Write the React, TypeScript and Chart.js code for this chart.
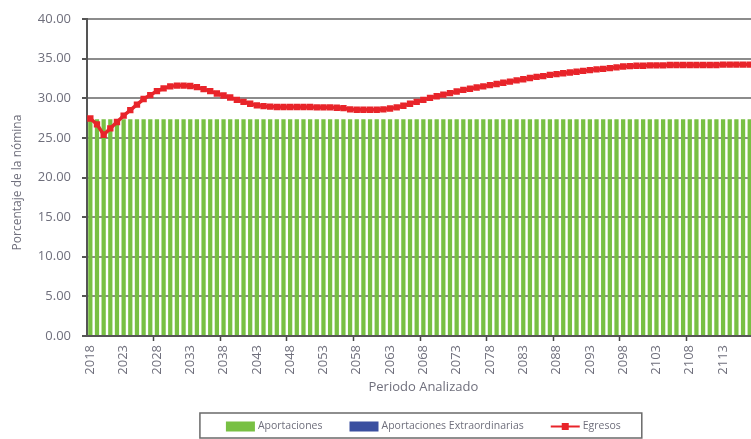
import { useEffect, useRef } from "react";
import { Chart, registerables } from "chart.js";
Chart.register(...registerables);

const years = [
  "2018","2019","2020","2021","2022","2023","2024","2025","2026","2027",
  "2028","2029","2030","2031","2032","2033","2034","2035","2036","2037",
  "2038","2039","2040","2041","2042","2043","2044","2045","2046","2047",
  "2048","2049","2050","2051","2052","2053","2054","2055","2056","2057",
  "2058","2059","2060","2061","2062","2063","2064","2065","2066","2067",
  "2068","2069","2070","2071","2072","2073","2074","2075","2076","2077",
  "2078","2079","2080","2081","2082","2083","2084","2085","2086","2087",
  "2088","2089","2090","2091","2092","2093","2094","2095","2096","2097",
  "2098","2099","2100","2101","2102","2103","2104","2105","2106","2107",
  "2108","2109","2110","2111","2112","2113","2114","2115","2116","2117",
  "2118",
];

const aportaciones = [
  27.35,27.35,27.35,27.35,27.35,27.35,27.35,27.35,27.35,27.35,
  27.35,27.35,27.35,27.35,27.35,27.35,27.35,27.35,27.35,27.35,
  27.35,27.35,27.35,27.35,27.35,27.35,27.35,27.35,27.35,27.35,
  27.35,27.35,27.35,27.35,27.35,27.35,27.35,27.35,27.35,27.35,
  27.35,27.35,27.35,27.35,27.35,27.35,27.35,27.35,27.35,27.35,
  27.35,27.35,27.35,27.35,27.35,27.35,27.35,27.35,27.35,27.35,
  27.35,27.35,27.35,27.35,27.35,27.35,27.35,27.35,27.35,27.35,
  27.35,27.35,27.35,27.35,27.35,27.35,27.35,27.35,27.35,27.35,
  27.35,27.35,27.35,27.35,27.35,27.35,27.35,27.35,27.35,27.35,
  27.35,27.35,27.35,27.35,27.35,27.35,27.35,27.35,27.35,27.35,
  27.35,
];

const aportacionesExtra = [
  0,0,0,0,0,0,0,0,0,0,
  0,0,0,0,0,0,0,0,0,0,
  0,0,0,0,0,0,0,0,0,0,
  0,0,0,0,0,0,0,0,0,0,
  0,0,0,0,0,0,0,0,0,0,
  0,0,0,0,0,0,0,0,0,0,
  0,0,0,0,0,0,0,0,0,0,
  0,0,0,0,0,0,0,0,0,0,
  0,0,0,0,0,0,0,0,0,0,
  0,0,0,0,0,0,0,0,0,0,
  0,
];

const egresos = [
  27.45,26.7,25.4,26.2,27.0,27.8,28.5,29.2,29.9,30.4,
  30.9,31.25,31.5,31.6,31.6,31.55,31.4,31.15,30.9,30.6,
  30.35,30.1,29.8,29.55,29.3,29.1,29.0,28.95,28.9,28.9,
  28.9,28.9,28.9,28.9,28.85,28.85,28.85,28.8,28.75,28.6,
  28.55,28.55,28.55,28.55,28.6,28.7,28.85,29.05,29.3,29.55,
  29.8,30.05,30.25,30.45,30.65,30.85,31.05,31.2,31.35,31.5,
  31.65,31.8,31.95,32.1,32.25,32.4,32.55,32.7,32.8,32.95,
  33.05,33.15,33.25,33.35,33.45,33.55,33.65,33.7,33.8,33.9,
  34.0,34.05,34.1,34.1,34.15,34.15,34.15,34.2,34.2,34.2,
  34.2,34.2,34.2,34.2,34.2,34.25,34.25,34.25,34.25,34.25,
  34.25,
];

const yTicks = [0, 5, 10, 15, 20, 25, 30, 35, 40];
const yTitle = "Porcentaje de la nómina";

const GREEN = "#78c043";
const BLUE = "#3a4fa0";
const RED = "#e8242a";
const TEXT = "#6f6f7c";
const FONT = "'Open Sans', sans-serif";

const legendPlugin = {
  id: "boxLegend",
  afterDraw(chart: any) {
    const { ctx, chartArea } = chart;
    const cx = (chartArea.left + chartArea.right) / 2;
    ctx.save();
    // y-axis title
    ctx.font = `12px ${FONT}`;
    ctx.fillStyle = TEXT;
    ctx.textAlign = "center";
    ctx.textBaseline = "middle";
    ctx.translate(18, (chartArea.top + chartArea.bottom) / 2 + 5);
    ctx.rotate(-Math.PI / 2);
    ctx.fillText(yTitle, 0, 0);
    ctx.restore();

    ctx.save();
    ctx.font = `10.5px ${FONT}`;
    const items = chart.data.datasets.map((d: any) => ({
      label: d.label,
      type: d.type,
      color: d.type === "line" ? d.borderColor : d.backgroundColor,
      w: ctx.measureText(d.label).width,
    }));
    const sw = 29, tg = 3, gap = 27;
    let total = 0;
    items.forEach((it: any, i: number) => {
      total += sw + tg + it.w + (i > 0 ? gap : 0);
    });
    let x = cx - total / 2;
    const boxL = x - 26, boxR = x + total + 21;
    const boxT = 413, boxB = 438;
    ctx.strokeStyle = "#6a6a6a";
    ctx.lineWidth = 1.5;
    ctx.strokeRect(boxL, boxT, boxR - boxL, boxB - boxT);
    const my = (boxT + boxB) / 2 + 1;
    items.forEach((it: any) => {
      if (it.type === "line") {
        ctx.strokeStyle = it.color;
        ctx.lineWidth = 2;
        ctx.beginPath();
        ctx.moveTo(x, my);
        ctx.lineTo(x + sw, my);
        ctx.stroke();
        ctx.fillStyle = it.color;
        ctx.fillRect(x + sw / 2 - 3.5, my - 3.5, 7, 7);
      } else {
        ctx.fillStyle = it.color;
        ctx.fillRect(x, my - 5, sw, 10);
      }
      ctx.fillStyle = TEXT;
      ctx.textBaseline = "middle";
      ctx.textAlign = "left";
      ctx.fillText(it.label, x + sw + tg, my);
      x += sw + tg + it.w + gap;
    });
    ctx.restore();
  },
};

export default function App() {
  const ref = useRef<HTMLCanvasElement>(null);
  useEffect(() => {
    if (!ref.current) return;
    const chart = new Chart(ref.current, {
      type: "bar",
      data: {
        labels: years,
        datasets: [
          {
            type: "bar",
            label: "Aportaciones",
            data: aportaciones,
            backgroundColor: GREEN,
            borderWidth: 0,
            grouped: false,
            categoryPercentage: 1,
            barPercentage: 0.64,
            order: 2,
          } as any,
          {
            type: "bar",
            label: "Aportaciones Extraordinarias",
            data: aportacionesExtra,
            backgroundColor: BLUE,
            borderWidth: 0,
            grouped: false,
            categoryPercentage: 1,
            barPercentage: 0.64,
            order: 1,
          } as any,
          {
            type: "line",
            label: "Egresos",
            data: egresos,
            borderColor: RED,
            backgroundColor: RED,
            borderWidth: 3.5,
            pointStyle: "rect",
            pointRadius: 4.5,
            pointBorderWidth: 0,
            tension: 0,
            order: 0,
          } as any,
        ],
      },
      options: {
        responsive: false,
        animation: false,
        devicePixelRatio: 1,
        layout: { padding: { top: 19, left: 0, right: 1, bottom: 43 } },
        plugins: {
          legend: { display: false },
          tooltip: { enabled: false },
        },
        scales: {
          x: {
            grid: {
              offset: true,
              drawOnChartArea: false,
              tickLength: 5,
              tickColor: (c: any) => (c.index % 10 === 0 && c.index > 0 ? "#444" : "rgba(0,0,0,0)"),
              tickWidth: 1.5,
            },
            border: { color: "#555", width: 2 },
            ticks: {
              autoSkip: false,
              maxRotation: 90,
              minRotation: 90,
              padding: 4,
              color: TEXT,
              font: { family: FONT, size: 13 },
              callback: (_v: any, i: number) => (i % 5 === 0 ? years[i] : ""),
            },
            title: {
              display: true,
              text: "Periodo Analizado",
              color: TEXT,
              font: { family: FONT, size: 13 },
              padding: { top: 0, bottom: 1.2 },
            },
            afterFit: (s: any) => {
              s.height = 60;
            },
          },
          y: {
            min: 0,
            max: 40,
            afterBuildTicks: (s: any) => {
              s.ticks = yTicks.map((v) => ({ value: v }));
            },
            grid: {
              color: "#8c8c8c",
              lineWidth: 2,
              tickLength: 5,
              tickColor: "#555",
            },
            border: { color: "#555", width: 2 },
            ticks: {
              padding: 11,
              color: TEXT,
              font: { family: FONT, size: 13 },
              callback: (v: any) => Number(v).toFixed(2),
            },
            title: { display: false },
            afterFit: (s: any) => {
              s.width = 87;
            },
          },
        },
      },
      plugins: [legendPlugin],
    });
    return () => chart.destroy();
  }, []);
  return (
    <div
      style={{
        position: "fixed",
        left: 0,
        top: 0,
        width: 751,
        height: 439,
        overflow: "hidden",
        background: "#fff",
      }}
    >
      <canvas ref={ref} width={776} height={439} style={{ width: 776, height: 439, display: "block" }} />
    </div>
  );
}
